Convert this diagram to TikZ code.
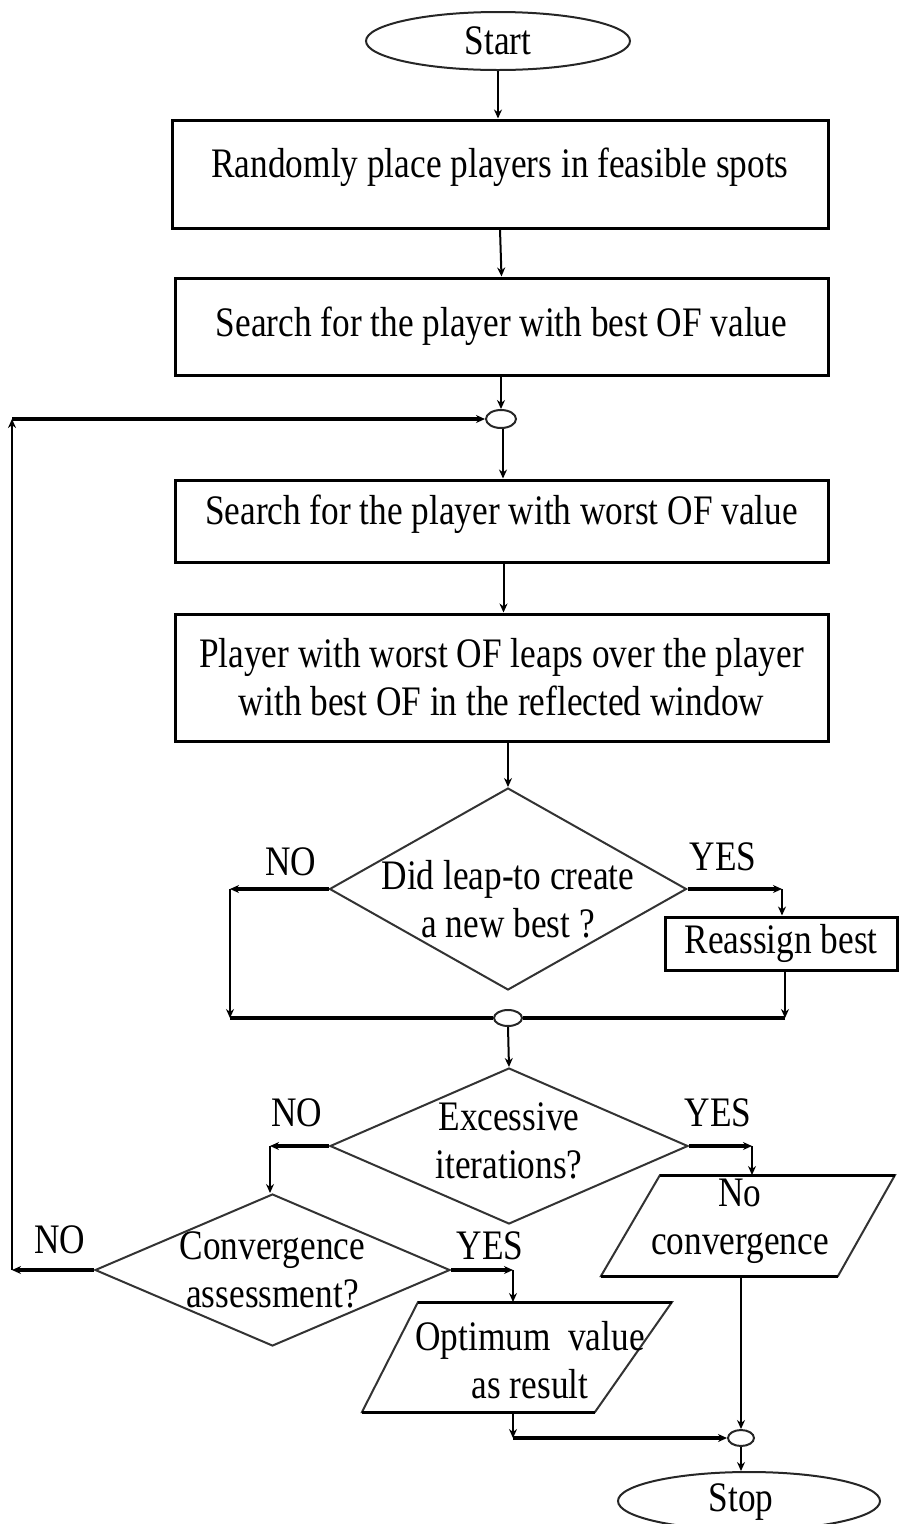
\documentclass[tikz,border=0pt]{standalone}
\usepackage{fontspec}
\setmainfont{Liberation Serif}[FakeStretch=0.84]
\usetikzlibrary{shapes.geometric,arrows.meta,calc}
\begin{document}
\begin{tikzpicture}[x=1pt,y=-1pt,
  txt/.style={font=\fontsize{42}{48}\selectfont, align=center, inner sep=0pt},
  procbox/.style={draw, line width=3pt, inner sep=0pt, font=\fontsize{42}{48}\selectfont, align=center},
  oval/.style={draw=black!85, ellipse, line width=2pt, inner sep=0pt, font=\fontsize{42}{48}\selectfont},
  junc/.style={draw=black!85, ellipse, line width=2pt, inner sep=0pt, minimum width=30pt, minimum height=18pt},
  decision/.style={draw=black!80, diamond, line width=2pt, inner sep=0pt},
  para/.style={draw=black!80, line width=2pt, line join=miter},
  paraedge/.style={line width=3pt},
  varr/.style={-{Stealth[length=9pt,width=8pt]}, line width=2pt},
  harr/.style={-{Stealth[length=9pt,width=8pt]}, line width=3.5pt},
  hln/.style={line width=3.5pt}]
\useasboundingbox (0,0) rectangle (898,1524);

% nodes
\node[oval, minimum width=264pt, minimum height=58pt] (start) at (498,41) {Start};
\node[procbox, minimum width=656pt, minimum height=108pt] (b1) at (500,174) {};
\node[txt] (b1t) at (500,167) {Randomly place players in feasible spots};
\node[procbox, minimum width=653pt, minimum height=97pt] (b2) at (501.5,326.5) {Search for the player with best OF value};
\node[junc] (j1) at (501,419) {};
\node[procbox, minimum width=653pt, minimum height=82pt] (b3) at (501.5,521) {};
\node[txt] (b3t) at (501.5,514) {Search for the player with worst OF value};
\node[procbox, minimum width=653pt, minimum height=127pt] (b4) at (501.5,677.5) {Player with worst OF leaps over the player\\with best OF in the reflected window};

\node[decision, minimum width=357pt, minimum height=202pt] (d1) at (508,889) {};
\node[txt] (d1t) at (508,899) {Did leap-to create\\a new best ?};
\node[txt] (no1) at (291,862) {NO};
\node[txt] (yes1) at (723,857) {YES};
\node[procbox, minimum width=232pt, minimum height=53pt] (rb) at (781,943.5) {Reassign best};
\node[junc, minimum width=28pt, minimum height=16pt] (j2) at (508,1018) {};

\node[decision, minimum width=358pt, minimum height=156pt] (d2) at (509,1146) {};
\node[txt] (d2t) at (509,1141) {Excessive\\iterations?};
\node[txt] (no2) at (297,1113) {NO};
\node[txt] (yes2) at (718,1113) {YES};

\node[decision, minimum width=355pt, minimum height=152pt] (d3) at (272.5,1270) {};
\node[txt] (d3t) at (272.5,1270) {Convergence\\assessment?};
\node[txt] (no3) at (60,1240) {NO};
\node[txt] (yes3) at (490,1246) {YES};

% parallelogram: No convergence
\draw[para] (660,1175) -- (895,1175) -- (838,1276) -- (601,1276) -- cycle;
\draw[paraedge] (660,1175) -- (895,1175) (601,1276) -- (838,1276);
\node[txt] (p1) at (740,1221) {No\\convergence};
\coordinate (p1top) at (752,1175);
\coordinate (p1bot) at (741,1276);

% parallelogram: Optimum value
\draw[para] (418,1302) -- (672,1302) -- (595,1412) -- (362,1412) -- cycle;
\draw[paraedge] (418,1302) -- (672,1302) (362,1412) -- (595,1412);
\node[txt] (p2) at (530,1360) {Optimum\ \ value\\as result};
\coordinate (p2top) at (513,1302);
\coordinate (p2bot) at (513,1412);

\node[junc, minimum width=26pt, minimum height=16pt] (j3) at (741,1438) {};
\node[oval, minimum width=262pt, minimum height=58pt] (stop) at (749,1501) {};
\node[txt] (stopt) at (741,1502) {Stop};

% helper coordinates
\coordinate (c1) at (230,889);
\coordinate (c2) at (230,1018);
\coordinate (c3) at (782,889);
\coordinate (c4) at (785,1018);
\coordinate (c5) at (270,1146);
\coordinate (c6) at (752,1146);
\coordinate (c7) at (12,1270);
\coordinate (c8) at (12,419);
\coordinate (c9) at (513,1270);
\coordinate (c10) at (513,1438);

% connectors
\draw[varr] (start.south) -- (start.south |- b1.north);
\draw[varr] (b1.south) -- (b2.north);
\draw[varr] (b2.south -| j1.north) -- (j1.north);
\draw[varr] ($(j1.south)+(2,0)$) -- ($(j1.south |- b3.north)+(2,0)$);
\draw[varr] ($(b3.south)+(2,0)$) -- ($(b4.north)+(2,0)$);
\draw[varr] (d1.north |- b4.south) -- (d1.north);

\draw[harr] (d1.west) -- (c1);
\draw[varr] (c1) -- (c2);
\draw[hln] (c2) -- (j2.west);
\draw[harr] (d1.east) -- (c3);
\draw[varr] (c3) -- (c3 |- rb.north);
\draw[varr] (c4 |- rb.south) -- (c4);
\draw[hln] (c4) -- (j2.east);

\draw[varr] (j2.south) -- (d2.north);
\draw[harr] (d2.west) -- (c5);
\draw[varr] (c5) -- (c5 |- d3.north);
\draw[harr] (d2.east) -- (c6);
\draw[varr] (c6) -- (p1top);

\draw[harr] (d3.west) -- (c7);
\draw[varr] (c7) -- (c8);
\draw[harr] (c8) -- (j1.west);
\draw[harr] (d3.east) -- (c9);
\draw[varr] (c9) -- (p2top);

\draw[varr] (p2bot) -- (c10);
\draw[harr] (c10) -- (j3.west);
\draw[varr] (p1bot) -- (j3.north);
\draw[varr] (j3.south) -- (j3.south |- stop.north);
\end{tikzpicture}
\end{document}
